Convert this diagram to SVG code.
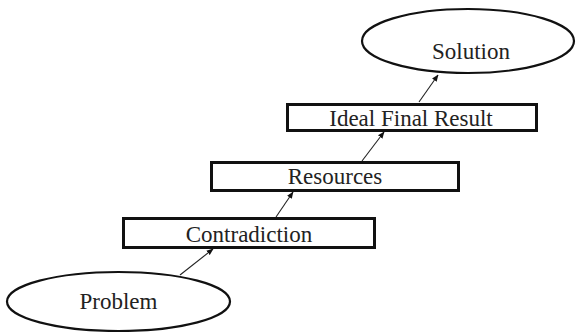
<svg xmlns="http://www.w3.org/2000/svg" width="576" height="332" viewBox="0 0 576 332">
  <style>
    .oval { fill: #fff; stroke: #111; stroke-width: 2.2; }
    .box { fill: #fff; stroke: #111; stroke-width: 3; }
    .lbl { font-family: "Liberation Serif", "Times New Roman", serif; font-size: 23px; fill: #222; text-anchor: middle; }
    .link { stroke: #222; stroke-width: 1.1; fill: none; marker-end: url(#head); }
  </style>
  <defs>
    <marker id="head" viewBox="0 0 10 10" refX="9" refY="5" markerWidth="7" markerHeight="7" markerUnits="userSpaceOnUse" orient="auto">
      <path d="M0,1 L10,5 L0,9 Z" fill="#111"/>
    </marker>
  </defs>
  <rect width="576" height="332" fill="#fff"/>

  <g id="connectors">
    <line class="link" x1="180" y1="275" x2="213" y2="249"/>
    <line class="link" x1="276" y1="217" x2="293" y2="192"/>
    <line class="link" x1="362" y1="161" x2="384" y2="132"/>
    <line class="link" x1="419" y1="102" x2="438" y2="75"/>
  </g>

  <g id="problem">
    <ellipse class="oval" cx="118.5" cy="301.5" rx="111.5" ry="29.5"/>
    <text class="lbl" x="118.5" y="309">Problem</text>
  </g>

  <g id="contradiction">
    <rect class="box" x="123.5" y="218.5" width="251" height="29"/>
    <text class="lbl" x="249" y="242">Contradiction</text>
  </g>

  <g id="resources">
    <rect class="box" x="211.5" y="162.5" width="247" height="28"/>
    <text class="lbl" x="335" y="184">Resources</text>
  </g>

  <g id="ideal-final-result">
    <rect class="box" x="287.5" y="104.5" width="249" height="26"/>
    <text class="lbl" x="411" y="126">Ideal Final Result</text>
  </g>

  <g id="solution">
    <ellipse class="oval" cx="468" cy="41" rx="106" ry="32"/>
    <text class="lbl" x="471" y="59">Solution</text>
  </g>
</svg>
